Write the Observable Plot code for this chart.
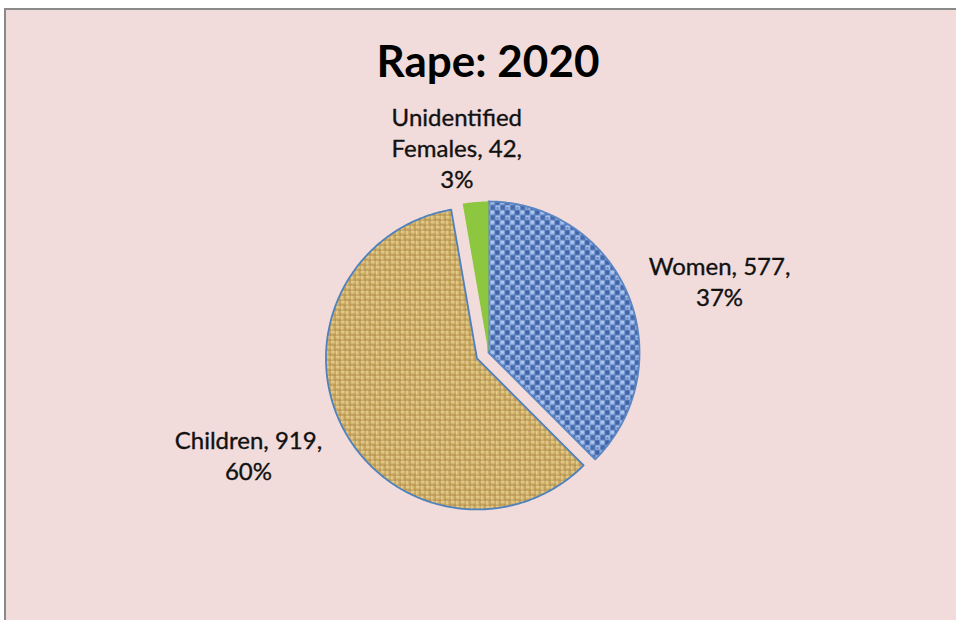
<!DOCTYPE html>
<html>
<head>
<meta charset="utf-8">
<script src="https://cdn.jsdelivr.net/npm/d3@7"></script>
<script src="https://cdn.jsdelivr.net/npm/@observablehq/plot@0.6"></script>
<style>
  html, body { margin: 0; padding: 0; background: #ffffff; }
  body { width: 956px; height: 620px; overflow: hidden; position: relative; font-family: Lato, "Open Sans", sans-serif; }
  #box { position: absolute; left: 4px; top: 8px; width: 990px; height: 660px; background: #f1dcdb; border-top: 2px solid #8a8a8a; border-left: 2px solid #8a8a8a; }
  #title { position: absolute; left: 0; width: 976px; top: 34px; text-align: center; font-family: Lato, sans-serif; font-weight: 700; font-size: 44px; color: #000; line-height: 52px; }
  #chart { position: absolute; left: 0; top: 0; }
</style>
</head>
<body>
<div id="box"></div>
<div id="title">Rape: 2020</div>
<div id="chart"></div>
<script>
// ---- data ----
const categories = ["Women", "Children", "Unidentified Females"];
const counts = [577, 919, 42];
const percents = ["37%", "60%", "3%"];
const labelLines = [
  ["Women, 577,", "37%"],
  ["Children, 919,", "60%"],
  ["Unidentified", "Females, 42,", "3%"]
];

// ---- layout (not data) ----
const cx = 488, cy = 352, R = 151;
const fills = ["url(#denim)", "url(#burlap)", "#8dc63f"];
const strokes = ["#5a86c4", "#4f81bd", "none"];
const explode = [0, 0.086, 0];
const labelAt = [[1.53, 0.477], [-1.59, -0.675], [-0.21, 1.36]];

const arcs = d3.pie().sort(null).startAngle(0).endAngle(2 * Math.PI)(counts);

const slices = arcs.map((a, i) => {
  const mid = (a.startAngle + a.endAngle) / 2;
  const ox = explode[i] * Math.sin(mid), oy = explode[i] * Math.cos(mid);
  const pts = [{x: ox, y: oy}];
  const n = Math.max(8, Math.ceil((a.endAngle - a.startAngle) / 0.01));
  for (let k = 0; k <= n; k++) {
    const t = a.startAngle + (a.endAngle - a.startAngle) * k / n;
    pts.push({x: ox + Math.sin(t), y: oy + Math.cos(t)});
  }
  pts.push({x: ox, y: oy});
  return pts;
});

const labels = categories.map((c, i) => ({
  x: labelAt[i][0], y: labelAt[i][1], text: labelLines[i].join("\n")
}));

const plot = Plot.plot({
  width: 956,
  height: 620,
  margin: 0,
  style: {background: "transparent", overflow: "visible"},
  x: {domain: [-1, 1], range: [cx - R, cx + R], axis: null},
  y: {domain: [-1, 1], range: [cy + R, cy - R], axis: null},
  marks: [
    ...slices.map((pts, i) => Plot.line(pts, {
      x: "x", y: "y", curve: "linear",
      fill: fills[i], stroke: strokes[i], strokeWidth: 1.8, strokeLinejoin: "round"
    })),
    Plot.text(labels, {
      x: "x", y: "y", text: "text",
      fontSize: 24, lineHeight: 1.3, fill: "#111111", stroke: "#111111", strokeWidth: 0.35,
      fontFamily: "Lato, sans-serif", textAnchor: "middle"
    })
  ]
});

d3.select(plot).insert("defs", ":first-child").html(`
  <pattern id="denim" patternUnits="userSpaceOnUse" width="10" height="10">
    <rect width="10" height="10" fill="#6285c4"/>
    <rect x="0" y="0" width="4" height="4" fill="#9fbbea"/>
    <rect x="5" y="5" width="4" height="4" fill="#a7c2ef"/>
    <rect x="5" y="0" width="4" height="4" fill="#3f62a4"/>
    <rect x="0" y="5" width="4" height="4" fill="#4669aa"/>
    <rect x="4" y="0" width="1" height="10" fill="#587bbb"/>
    <rect x="9" y="0" width="1" height="10" fill="#86a5dc"/>
    <rect x="1" y="1" width="2" height="1" fill="#cfdcf7"/>
    <rect x="6" y="7" width="2" height="1" fill="#2c4b8a"/>
  </pattern>
  <pattern id="burlap" patternUnits="userSpaceOnUse" width="10" height="10">
    <rect width="10" height="10" fill="#a98240"/>
    <rect x="0" y="0.5" width="4.5" height="1.8" fill="#f4e0a0"/>
    <rect x="0" y="2.6" width="4.5" height="1.5" fill="#dcbd74"/>
    <rect x="5.5" y="0" width="1.8" height="4.5" fill="#f4e0a0"/>
    <rect x="7.6" y="0" width="1.5" height="4.5" fill="#dcbd74"/>
    <rect x="5" y="5.5" width="4.5" height="1.8" fill="#f4e0a0"/>
    <rect x="5" y="7.6" width="4.5" height="1.5" fill="#dcbd74"/>
    <rect x="0.5" y="5" width="1.8" height="4.5" fill="#f4e0a0"/>
    <rect x="2.6" y="5" width="1.5" height="4.5" fill="#dcbd74"/>
  </pattern>
`);

document.getElementById("chart").appendChild(plot);
</script>
</body>
</html>
